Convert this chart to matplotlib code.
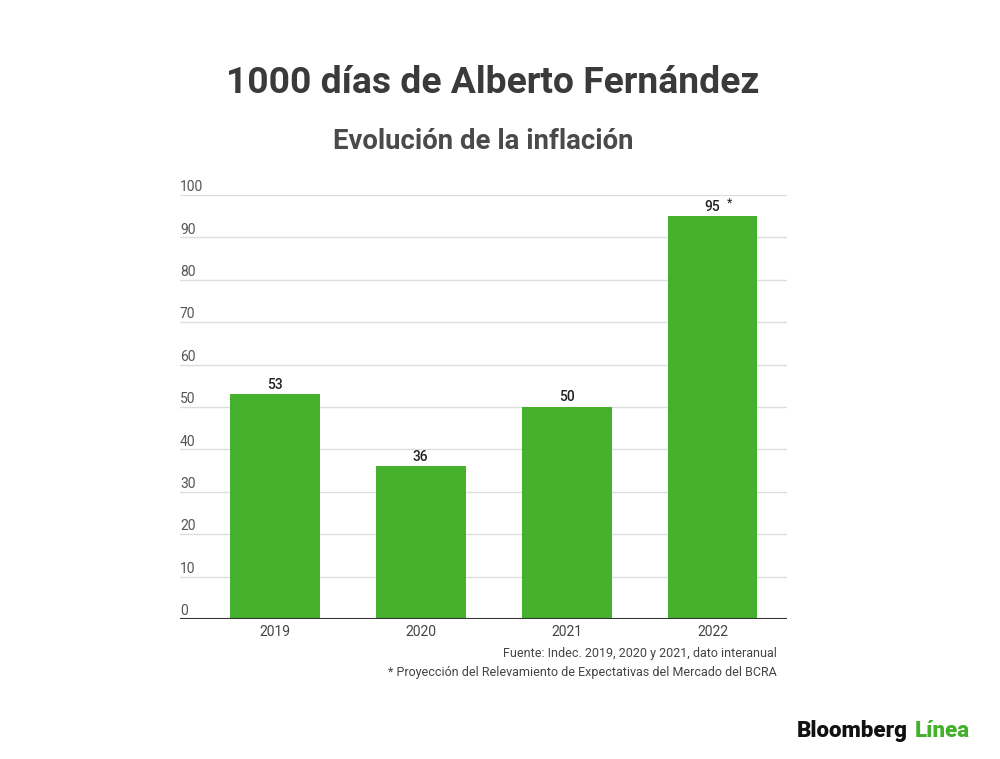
import matplotlib.pyplot as plt
from matplotlib.transforms import blended_transform_factory

plt.rcParams['font.family'] = ['Roboto', 'DejaVu Sans']

years = ['2019', '2020', '2021', '2022']
inflation = [53, 36, 50, 95]
projected = [False, False, False, True]
y_ticks = [0, 10, 20, 30, 40, 50, 60, 70, 80, 90, 100]

bar_color = '#45b02c'
text_gray = '#444444'

fig = plt.figure(figsize=(10, 7.59), dpi=100)
ax = fig.add_axes([0.18, 0.1845, 0.607, 0.5586])

x = list(range(len(years)))
ax.bar(x, inflation, width=0.615, color=bar_color, zorder=2)

ax.set_xlim(-0.65, 3.51)
ax.set_ylim(0, 100)

# grid lines
for t in y_ticks[1:]:
    ax.axhline(t, color='#dddddd', lw=1, zorder=1)
ax.axhline(0, color='#333333', lw=1.5, zorder=3)

# y labels sit above the grid lines, left side
trans = blended_transform_factory(ax.transAxes, ax.transData)
for t in y_ticks:
    ax.text(0.0, t + 0.2, str(t), transform=trans, ha='left', va='bottom',
            fontsize=10, color='#555555')

# value labels
for xi, v, proj in zip(x, inflation, projected):
    ax.text(xi, v + 0.6, str(v), ha='center', va='bottom', fontsize=10,
            color='#222222', fontweight='medium')
    if proj:
        ax.text(xi + 0.1, v + 1.6, '*', ha='left', va='bottom', fontsize=9,
                color='#222222')

ax.set_xticks(x)
ax.set_xticklabels(years, fontsize=10, color=text_gray)
ax.tick_params(axis='x', length=0, pad=4)
ax.set_yticks([])
for s in ax.spines.values():
    s.set_visible(False)

fig.text(0.493, 0.89, '1000 días de Alberto Fernández', ha='center', va='center',
         fontsize=26.8, fontweight='bold', color='#3a3a3a')
fig.text(0.483, 0.813, 'Evolución de la inflación', ha='center', va='center',
         fontsize=19.8, fontweight='bold', color='#4a4a4a')

fig.text(0.777, 0.139, 'Fuente: Indec. 2019, 2020 y 2021, dato interanual',
         ha='right', va='center', fontsize=9, color=text_gray)
fig.text(0.777, 0.114, '* Proyección del Relevamiento de Expectativas del Mercado del BCRA',
         ha='right', va='center', fontsize=9, color=text_gray)

# logo
t1 = fig.text(0.797, 0.037, 'Bloomberg', ha='left', va='center',
              fontsize=16, fontweight='heavy', color='#111111')
fig.canvas.draw()
bb = t1.get_window_extent()
fig.text(bb.x1 / 1000 + 0.007, 0.037, 'Línea', ha='left', va='center',
         fontsize=16, fontweight='heavy', color=bar_color)

fig.savefig('out.png', dpi=100)
